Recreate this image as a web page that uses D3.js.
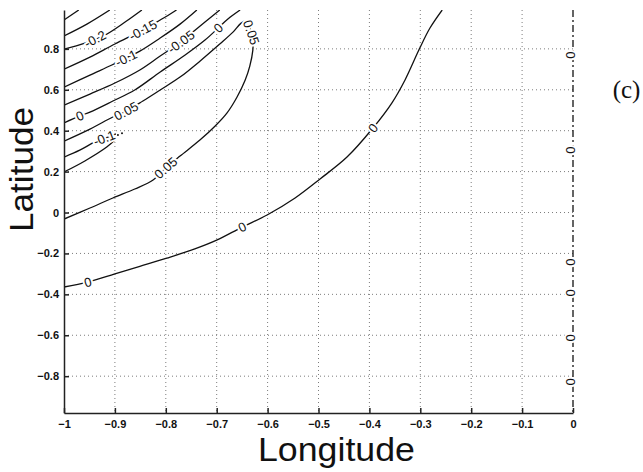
<!DOCTYPE html>
<html>
<head>
<meta charset="utf-8">
<script src="https://cdn.jsdelivr.net/npm/d3@7"></script>
<style>
body { margin: 0; background: #fff; }
svg { display: block; font-family: "Liberation Sans", Arial, sans-serif; }
.grid line { stroke: #7c7c7c; stroke-width: 1; stroke-dasharray: 1,3; }
.axis path, .axis line { stroke: #222; stroke-width: 1.5; }
.axis text { font-size: 11px; font-weight: bold; fill: #111; font-family: "Liberation Sans", Arial, sans-serif; }
.contour { fill: none; stroke: #111; stroke-width: 1.3; }
.clabel { font-size: 13px; fill: #111; stroke: #fff; stroke-width: 4; paint-order: stroke; stroke-linejoin: round; }
</style>
</head>
<body>
<script>
// axis ticks
const xTicks = [-1, -0.9, -0.8, -0.7, -0.6, -0.5, -0.4, -0.3, -0.2, -0.1, 0];
const yTicks = [-0.8, -0.6, -0.4, -0.2, 0, 0.2, 0.4, 0.6, 0.8];

// contour lines, [longitude, latitude]
const levelM30 = [[-1, 0.941], [-0.971, 0.990]];
const levelM25 = [[-1, 0.863], [-0.955, 0.921], [-0.910, 0.990]];
const levelM20 = [[-1, 0.799], [-0.959, 0.828], [-0.919, 0.868], [-0.880, 0.931], [-0.847, 0.990]];
const levelM15 = [[-1, 0.701], [-0.949, 0.760], [-0.900, 0.824], [-0.845, 0.892], [-0.811, 0.941], [-0.782, 0.985], [-0.775, 1.0]];
const levelM10 = [[-1, 0.613], [-0.949, 0.672], [-0.906, 0.721], [-0.878, 0.755], [-0.851, 0.789], [-0.811, 0.853], [-0.772, 0.921], [-0.739, 0.990]];
const levelM05 = [[-1, 0.525], [-0.949, 0.579], [-0.900, 0.633], [-0.851, 0.697], [-0.811, 0.765], [-0.770, 0.834], [-0.747, 0.882], [-0.723, 0.931], [-0.694, 0.990]];
const level0Upper = [[-1, 0.438], [-0.969, 0.472], [-0.949, 0.491], [-0.904, 0.545], [-0.861, 0.599], [-0.811, 0.687], [-0.762, 0.770], [-0.723, 0.843], [-0.697, 0.902], [-0.678, 0.946], [-0.654, 0.990]];
const level05Loop = [[-1, 0.349], [-0.949, 0.408], [-0.904, 0.467], [-0.878, 0.496], [-0.845, 0.545], [-0.811, 0.599],
  [-0.772, 0.662], [-0.733, 0.740], [-0.694, 0.824], [-0.668, 0.882], [-0.652, 0.926], [-0.642, 0.936], [-0.635, 0.907],
  [-0.629, 0.843], [-0.629, 0.794], [-0.635, 0.716], [-0.644, 0.648], [-0.660, 0.565], [-0.680, 0.486], [-0.703, 0.423],
  [-0.733, 0.354], [-0.772, 0.276], [-0.800, 0.218], [-0.825, 0.159], [-0.861, 0.115], [-0.904, 0.071], [-0.949, 0.022], [-1, -0.032]];
const levelM10Inner = [[-1, 0.271], [-0.969, 0.305], [-0.939, 0.345], [-0.919, 0.364], [-0.898, 0.384]];
const levelM15Inner = [[-1, 0.198], [-0.959, 0.252], [-0.916, 0.320], [-0.898, 0.359]];
const level0Lower = [[-1, -0.364], [-0.953, -0.340], [-0.900, -0.300], [-0.851, -0.263], [-0.798, -0.223], [-0.743, -0.178],
  [-0.699, -0.134], [-0.650, -0.071], [-0.601, -0.012], [-0.546, 0.071], [-0.497, 0.164], [-0.444, 0.271], [-0.393, 0.413],
  [-0.356, 0.535], [-0.330, 0.648], [-0.301, 0.804], [-0.281, 0.902], [-0.257, 0.990]];
const level0Edge = [[0, 0.99], [0, -0.98]];
const singularDots = [[-0.894, 0.379], [-0.886, 0.388]];

// contour labels: which line, where, text
const labels = [
  [levelM20, -0.939, 0.848, "-0.2"],
  [levelM15, -0.845, 0.892, "-0.15"],
  [levelM10, -0.878, 0.755, "-0.1"],
  [levelM05, -0.770, 0.834, "-0.05"],
  [level0Upper, -0.969, 0.472, "0"],
  [level0Upper, -0.697, 0.902, "0"],
  [level05Loop, -0.878, 0.496, "0.05"],
  [level05Loop, -0.632, 0.880, "0.05"],
  [level05Loop, -0.800, 0.218, "0.05"],
  [levelM10Inner, -0.921, 0.364, "-0.1"],
  [level0Lower, -0.953, -0.340, "0"],
  [level0Lower, -0.650, -0.071, "0"],
  [level0Lower, -0.393, 0.413, "0"]
];
const edgeLabelLats = [0.770, 0.305, -0.242, -0.393, -0.613, -0.828];

const width = 643, height = 472;
const margin = {top: 10, right: 70, bottom: 59, left: 64};
const plotW = width - margin.left - margin.right,
      plotH = height - margin.top - margin.bottom;

const svg = d3.select("body").append("svg")
  .attr("width", width)
  .attr("height", height);

const x = d3.scaleLinear().domain([-1, 0]).range([0, plotW]);
const y = d3.scaleLinear().domain([-0.98, 0.99]).range([plotH, 0]);

const plot = svg.append("g")
  .attr("transform", `translate(${margin.left},${margin.top})`);

svg.append("defs").append("clipPath").attr("id", "clip")
  .append("rect").attr("x", 0).attr("y", 0).attr("width", plotW + 2).attr("height", plotH);

// dotted grid
const grid = plot.append("g").attr("class", "grid");
grid.selectAll(".gx").data(xTicks.slice(1, -1)).enter().append("line")
  .attr("x1", d => x(d)).attr("x2", d => x(d))
  .attr("y1", 0).attr("y2", plotH);
grid.selectAll(".gy").data(yTicks).enter().append("line")
  .attr("x1", 0).attr("x2", plotW)
  .attr("y1", d => y(d)).attr("y2", d => y(d));

// contours
const line = d3.line()
  .x(d => x(d[0])).y(d => y(d[1]))
  .curve(d3.curveCatmullRom.alpha(0.5));

const curves = [levelM30, levelM25, levelM20, levelM15, levelM10, levelM05, level0Upper,
  level05Loop, levelM10Inner, levelM15Inner, level0Lower];

const cg = plot.append("g").attr("clip-path", "url(#clip)");
cg.selectAll(".contour").data(curves).enter().append("path")
  .attr("class", "contour")
  .attr("d", line);

cg.append("path")
  .datum(level0Edge)
  .attr("class", "contour")
  .attr("stroke-dasharray", "7,3,2,3")
  .attr("d", d3.line().x(d => x(d[0])).y(d => y(d[1])));

cg.selectAll(".dot").data(singularDots).enter().append("circle")
  .attr("cx", d => x(d[0])).attr("cy", d => y(d[1])).attr("r", 1).attr("fill", "#111");

// label rotation from the line direction
function angleAt(pts, lon, lat) {
  const p = pts.map(d => [x(d[0]), y(d[1])]);
  const px = x(lon), py = y(lat);
  let best = 0, bd = Infinity;
  p.forEach((q, i) => { const dd = (q[0] - px) ** 2 + (q[1] - py) ** 2; if (dd < bd) { bd = dd; best = i; } });
  const a = p[Math.max(best - 1, 0)], b = p[Math.min(best + 1, p.length - 1)];
  let ang = Math.atan2(b[1] - a[1], b[0] - a[0]) * 180 / Math.PI;
  if (ang > 90) ang -= 180;
  if (ang < -90) ang += 180;
  return ang;
}

plot.selectAll(".clabel").data(labels).enter().append("text")
  .attr("class", "clabel")
  .attr("text-anchor", "middle")
  .attr("dy", "0.35em")
  .attr("transform", d => `translate(${x(d[1])},${y(d[2])}) rotate(${angleAt(d[0], d[1], d[2])})`)
  .text(d => d[3]);

plot.selectAll(".elabel").data(edgeLabelLats).enter().append("text")
  .attr("class", "clabel")
  .attr("text-anchor", "middle")
  .attr("dy", "0.35em")
  .attr("transform", d => `translate(${x(0) - 2},${y(d)}) rotate(90)`)
  .text("0");

// axes
const xAxis = d3.axisBottom(x).tickValues(xTicks)
  .tickSizeInner(-5).tickSizeOuter(0).tickPadding(7)
  .tickFormat(d3.format("~g"));
const yAxis = d3.axisLeft(y).tickValues(yTicks)
  .tickSizeInner(-5).tickSizeOuter(0).tickPadding(5)
  .tickFormat(d3.format("~g"));

plot.append("g").attr("class", "axis")
  .attr("transform", `translate(0,${plotH})`)
  .call(xAxis);
plot.append("g").attr("class", "axis")
  .call(yAxis);

svg.append("text")
  .attr("x", 336.5).attr("y", 461)
  .attr("text-anchor", "middle")
  .attr("textLength", 157).attr("lengthAdjust", "spacingAndGlyphs")
  .style("font-size", "33px").style("fill", "#111")
  .text("Longitude");

svg.append("text")
  .attr("transform", "translate(33,169.5) rotate(-90)")
  .attr("text-anchor", "middle")
  .attr("textLength", 125).attr("lengthAdjust", "spacingAndGlyphs")
  .style("font-size", "34px").style("fill", "#111")
  .text("Latitude");

svg.append("text")
  .attr("x", 626.5).attr("y", 98)
  .attr("text-anchor", "middle")
  .style("font-family", "'Liberation Serif', 'DejaVu Serif', serif")
  .style("font-size", "25px").style("fill", "#111")
  .text("(c)");
</script>
</body>
</html>
